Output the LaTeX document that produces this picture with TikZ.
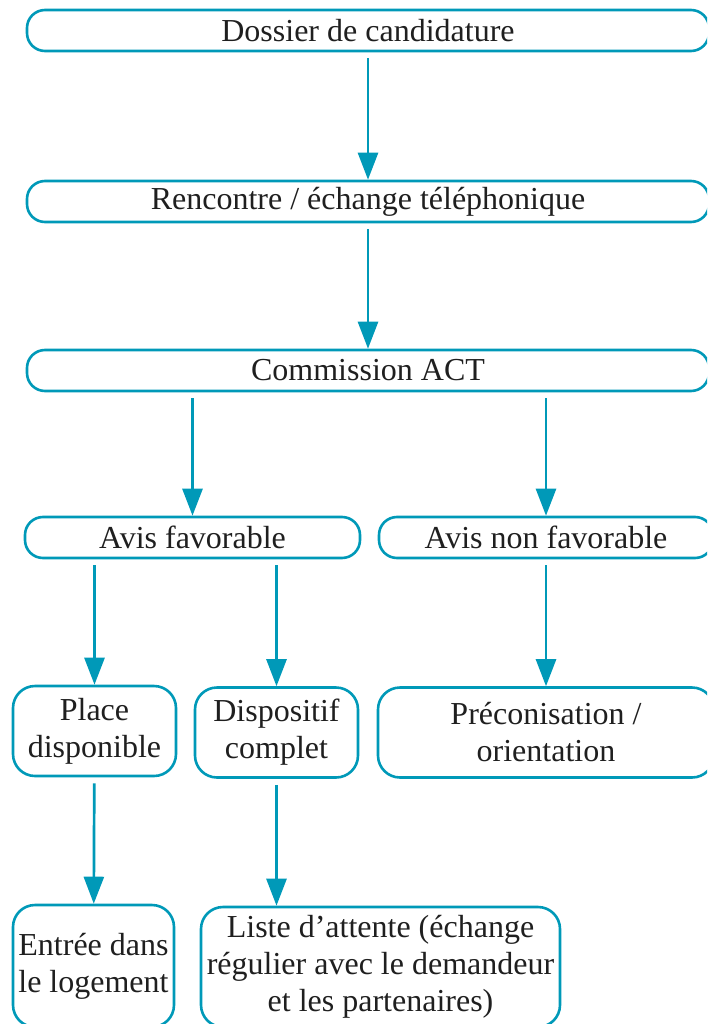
\documentclass[tikz,border=0pt]{standalone}
\usepackage{fontspec}
\setmainfont{Liberation Serif}
\usetikzlibrary{arrows.meta}
\definecolor{actblue}{RGB}{0,153,184}
\tikzset{
  etape/.style={draw=actblue, line width=2.6pt, rounded corners=18pt, align=center,
    inner sep=0pt, text=black!88, font=\fontsize{32}{37}\selectfont},
  fleche/.style={actblue, line width=2.7pt, -{Triangle[length=27pt,width=20pt]}, shorten <=6pt},
}
\begin{document}
\begin{tikzpicture}[x=1pt, y=-1pt]
    \useasboundingbox (0,0) rectangle (707,1024);
    \clip (0,0) rectangle (707,1024);

    % Application
    \node [etape, minimum width=682pt, minimum height=41pt] (dossier) at (368,30.5) {Dossier de candidature};
    \node [etape, minimum width=682pt, minimum height=41pt] (rencontre) at (368,201.5) {Rencontre / échange téléphonique};
    \node [etape, minimum width=682pt, minimum height=41pt] (commission) at (368,370.5) {Commission ACT};

    % Decision
    \node [etape, minimum width=335pt, minimum height=41pt] (favorable) at (192.5,537.5) {Avis favorable};
    \node [etape, minimum width=334pt, minimum height=41pt] (nonfavorable) at (546,537.5) {Avis non favorable};

    % Outcomes
    \node [etape, rounded corners=22pt, minimum width=163pt, minimum height=90pt] (place) at (94.5,731) {Place\\disponible};
    \node [etape, rounded corners=22pt, minimum width=163pt, minimum height=90pt] (complet) at (276.5,732.5) {Dispositif\\complet};
    \node [etape, rounded corners=22pt, minimum width=336pt, minimum height=90pt] (orientation) at (546,732.5) {Préconisation /\\orientation};

    % Follow-up
    \node [etape, rounded corners=22pt, minimum width=161pt, minimum height=122pt] (entree) at (93.5,966) {Entrée dans\\le logement};
    \node [etape, rounded corners=22pt, minimum width=359pt, minimum height=120pt] (attente) at (380.5,967) {Liste d'attente (échange\\régulier avec le demandeur\\et les partenaires)};

    % Arrows
    \draw [fleche] (dossier) -- (rencontre);
    \draw [fleche] (rencontre) -- (commission);
    \draw [fleche] (commission.south -| favorable.north) -- (favorable.north);
    \draw [fleche] (commission.south -| nonfavorable.north) -- (nonfavorable.north);
    \draw [fleche] (favorable.south -| place.north) -- (place.north);
    \draw [fleche] (favorable.south -| complet.north) -- (complet.north);
    \draw [fleche] (nonfavorable) -- (orientation);
    \draw [fleche] (place) -- (entree);
    \draw [fleche] (complet.south) -- (complet.south |- attente.north);
\end{tikzpicture}
\end{document}
